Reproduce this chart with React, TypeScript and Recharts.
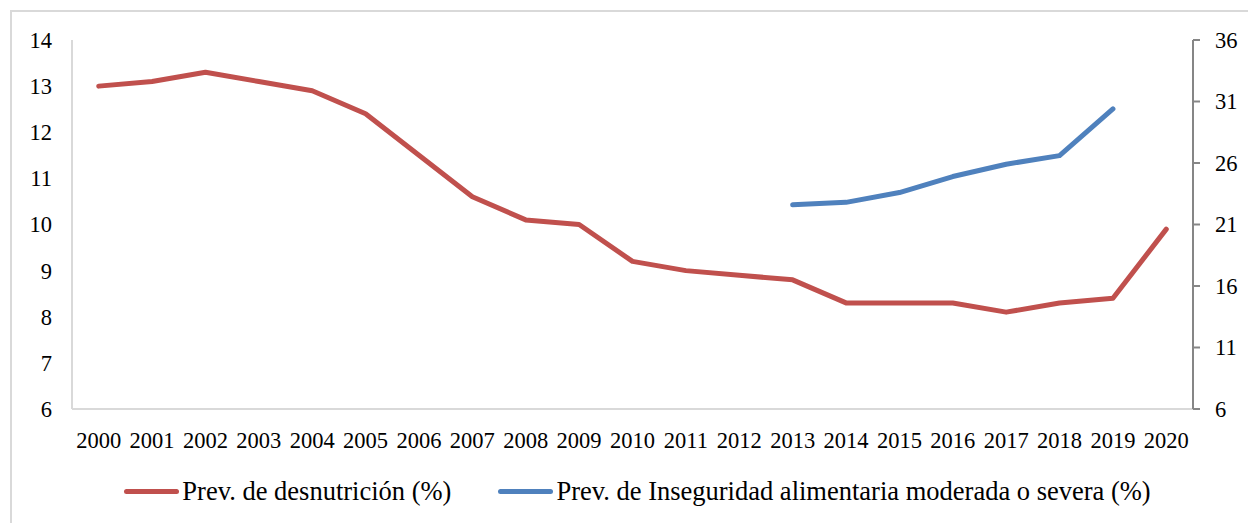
import { LineChart, Line, XAxis, YAxis, Legend } from 'recharts';

const years = [
  '2000', '2001', '2002', '2003', '2004', '2005', '2006', '2007', '2008', '2009', '2010',
  '2011', '2012', '2013', '2014', '2015', '2016', '2017', '2018', '2019', '2020',
];

// Prev. de desnutrición (%) — left axis
const undernourishment = [
  13.0, 13.1, 13.3, 13.1, 12.9, 12.4, 11.5, 10.6, 10.1, 10.0, 9.2,
  9.0, 8.9, 8.8, 8.3, 8.3, 8.3, 8.1, 8.3, 8.4, 9.9,
];

// Prev. de Inseguridad alimentaria moderada o severa (%) — right axis
const foodInsecurity = [
  null, null, null, null, null, null, null, null, null, null, null,
  null, null, 22.6, 22.8, 23.6, 24.9, 25.9, 26.6, 30.4, null,
];

const leftTicks = [6, 7, 8, 9, 10, 11, 12, 13, 14];
const rightTicks = [6, 11, 16, 21, 26, 31, 36];

const RED = '#c0504d';
const BLUE = '#4f81bd';
const FONT = "'Liberation Serif', 'DejaVu Serif', 'Times New Roman', Times, serif";

const chartData = years.map((year, i) => ({
  year,
  desnutricion: undernourishment[i],
  inseguridad: foodInsecurity[i],
}));

const legendItems = [
  { label: 'Prev. de desnutrición (%)', color: RED },
  { label: 'Prev. de Inseguridad alimentaria moderada o severa (%)', color: BLUE },
];

function ChartLegend() {
  return (
    <div
      style={{
        height: 36,
        display: 'flex',
        alignItems: 'center',
        justifyContent: 'center',
        gap: 47,
        paddingLeft: 27,
        fontFamily: FONT,
        fontSize: 26.5,
        color: '#000',
      }}
    >
      {legendItems.map((item) => (
        <div key={item.label} style={{ display: 'flex', alignItems: 'center' }}>
          <span
            style={{
              display: 'inline-block',
              width: 55,
              height: 5,
              borderRadius: 3,
              background: item.color,
              marginRight: 3,
            }}
          />
          <span style={{ fontFamily: FONT }}>{item.label}</span>
        </div>
      ))}
    </div>
  );
}

export default function App() {
  const tickStyle = { fontSize: 22.5, fill: '#000', fontFamily: FONT };
  return (
    <div
      style={{
        position: 'absolute',
        left: 0,
        top: 0,
        width: 1248,
        height: 523,
        overflow: 'hidden',
        background: '#fff',
        fontFamily: FONT,
      }}
    >
      <div
        style={{
          position: 'absolute',
          left: 10,
          top: 10,
          width: 1260,
          height: 540,
          border: '2px solid #d9d9d9',
        }}
      />
      <LineChart
        width={1248}
        height={523}
        data={chartData}
        margin={{ top: 40, right: 0, bottom: 14, left: 0 }}
        style={{ fontFamily: FONT }}
      >
        <XAxis
          dataKey="year"
          interval={0}
          height={64}
          padding={{ left: 26.7, right: 26.7 }}
          tickLine={false}
          tickSize={6}
          tickMargin={17}
          axisLine={{ stroke: '#d9d9d9', strokeWidth: 2 }}
          tick={tickStyle}
        />
        <YAxis
          yAxisId="left"
          orientation="left"
          width={72}
          domain={[6, 14]}
          ticks={leftTicks}
          tickLine={false}
          tickSize={6}
          tickMargin={14}
          axisLine={{ stroke: '#d9d9d9', strokeWidth: 2 }}
          tick={tickStyle}
        />
        <YAxis
          yAxisId="right"
          orientation="right"
          width={55}
          domain={[6, 36]}
          ticks={rightTicks}
          tickSize={7}
          tickMargin={15}
          tickLine={{ stroke: '#868686', strokeWidth: 2 }}
          axisLine={{ stroke: '#868686', strokeWidth: 2 }}
          tick={tickStyle}
        />
        <Legend verticalAlign="bottom" content={() => <ChartLegend />} />
        <Line
          yAxisId="left"
          type="linear"
          dataKey="desnutricion"
          stroke={RED}
          strokeWidth={5}
          strokeLinecap="round"
          strokeLinejoin="round"
          dot={false}
          isAnimationActive={false}
        />
        <Line
          yAxisId="right"
          type="linear"
          dataKey="inseguridad"
          stroke={BLUE}
          strokeWidth={5}
          strokeLinecap="round"
          strokeLinejoin="round"
          dot={false}
          isAnimationActive={false}
        />
      </LineChart>
    </div>
  );
}
